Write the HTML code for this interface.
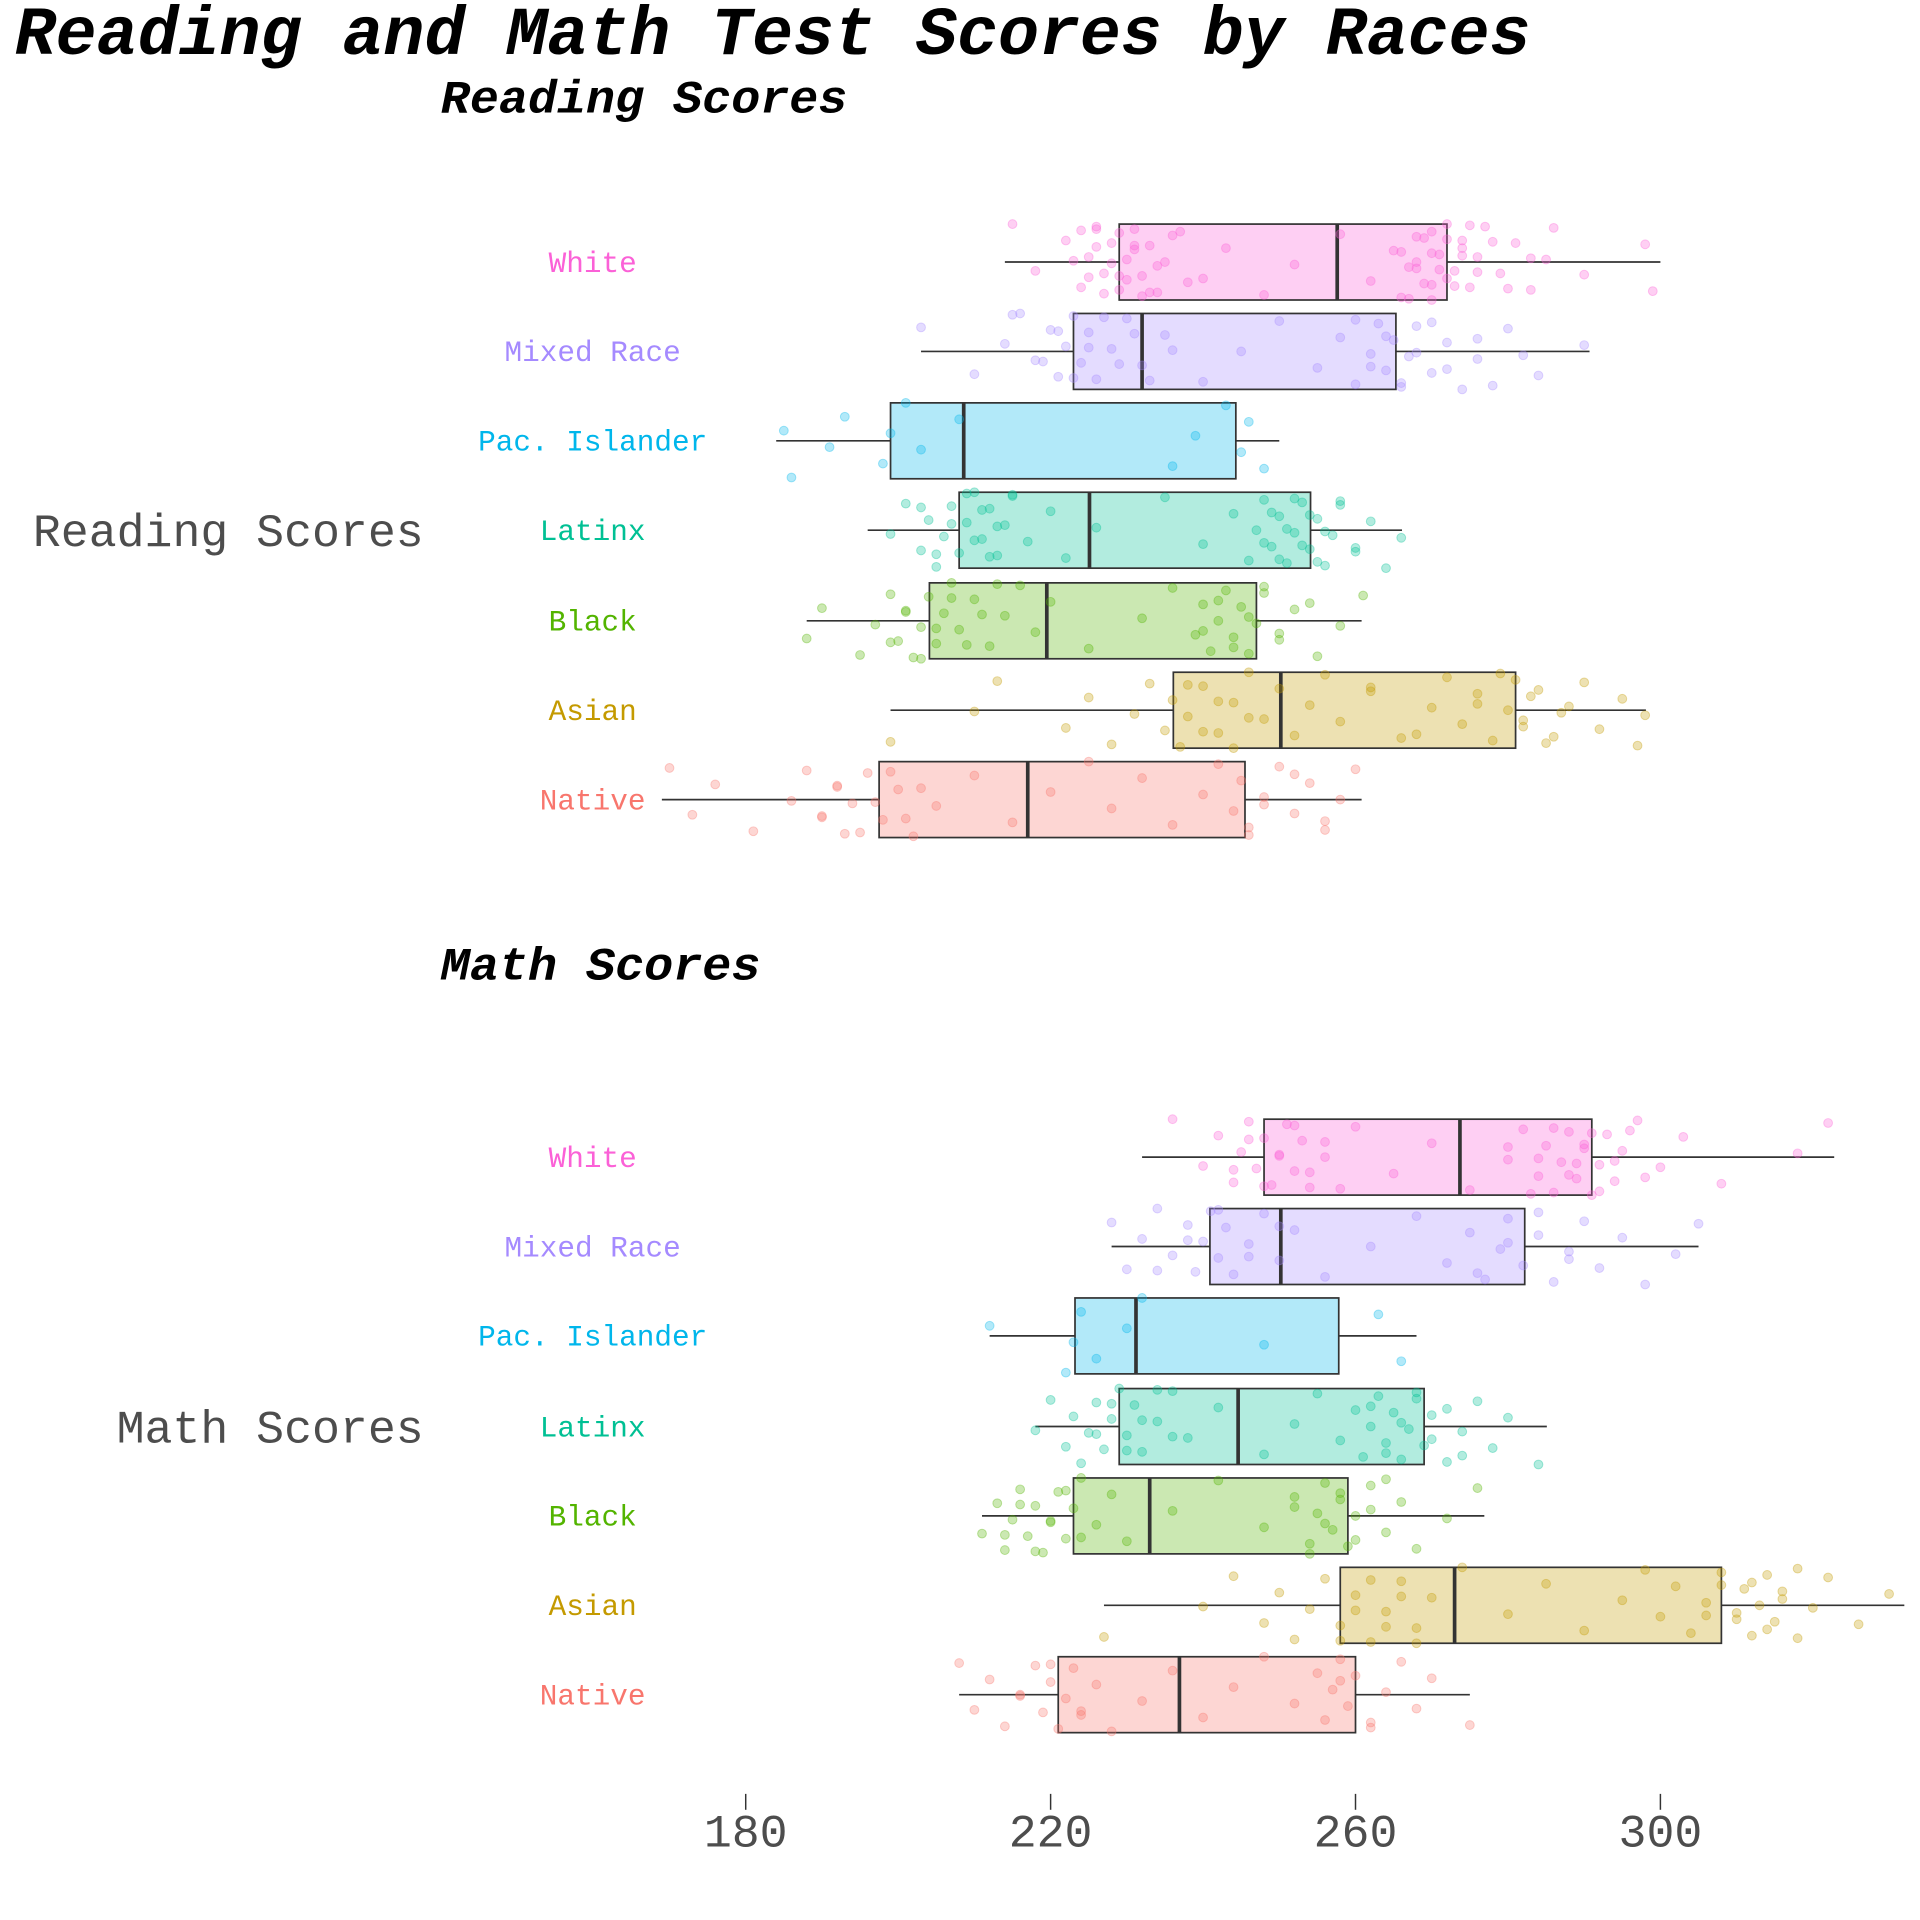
<!DOCTYPE html>
<html><head><meta charset="utf-8">
<style>
html,body{margin:0;padding:0;background:#fff;}
svg{display:block;}
text{font-family:"Liberation Mono","DejaVu Sans Mono",monospace;}
</style></head>
<body>
<svg id="chart" width="1920" height="1920" viewBox="0 0 1568 1568" xmlns="http://www.w3.org/2000/svg">
<text x="12" y="44" font-size="56" font-weight="bold" font-style="italic" textLength="1238" lengthAdjust="spacingAndGlyphs">Reading and Math Test Scores by Races</text>
<text x="360" y="92" font-size="38" font-weight="bold" font-style="italic" textLength="332" lengthAdjust="spacingAndGlyphs">Reading Scores</text>
<text x="360" y="800" font-size="38" font-weight="bold" font-style="italic" textLength="261" lengthAdjust="spacingAndGlyphs">Math Scores</text>
<text x="346" y="446" font-size="38" fill="#4d4d4d" text-anchor="end">Reading Scores</text>
<text x="346" y="1178" font-size="38" fill="#4d4d4d" text-anchor="end">Math Scores</text>
<g id="marks"></g>
</svg>
<script>
const categories = ["White","Mixed Race","Pac. Islander","Latinx","Black","Asian","Native"];
const colors = ["#FB61D7","#A58AFF","#00B6EB","#00C094","#53B400","#C49A00","#F8766D"];
// [whiskerLow, Q1, median, Q3, whiskerHigh]
const readingStats = [
  [214,229,257.6,272,300],
  [203,223,232,265.3,290.7],
  [184,199,208.6,244.3,250],
  [196,208,225.1,254.1,266.1],
  [188,204.1,219.5,247,260.8],
  [199,236.1,250.2,281,298.1],
  [169,197.5,217,245.5,260.8]
];
const mathStats = [
  [232,248,273.7,291,322.8],
  [228,240.9,250.2,282.2,305],
  [212,223.2,231.2,257.8,268],
  [218,229,244.6,269,285.1],
  [211,223,233,259,276.9],
  [227,258,273,308,332],
  [208,221,236.9,260,275]
];
const readingPoints = [
  [215,218,222,224,225,226,227,228,229,230,231,232,233,234,235,237,240,243,248,252,258,262,265,266,267,268,269,270,270,271,272,273,274,275,276,278,280,283,286,290,298,299,223,224,225,226,227,228,229,230,231,232,234,236,238,266,267,268,269,270,271,272,273,274,275,276,277,279,281,283,285,226,229,231,233,268,270,272,274],
  [203,210,214,216,218,220,221,222,223,224,225,226,228,230,232,235,240,245,250,255,258,260,262,263,264,265,266,267,268,270,272,274,276,280,284,290,215,219,221,223,225,227,229,231,233,236,260,262,264,266,268,270,272,276,278,282],
  [185,186,191,193,198,199,201,203,208,236,239,243,245,246,248],
  [199,201,203,204,205,206,207,208,209,210,211,212,213,214,215,217,220,222,226,235,240,244,246,247,248,249,250,251,252,253,254,255,256,257,258,260,262,264,266,203,205,207,209,210,211,212,213,215,248,249,250,251,252,253,254,255,256,258,260],
  [188,190,195,197,199,200,201,202,203,204,205,206,207,208,210,212,214,216,218,220,225,232,236,239,240,241,242,243,244,245,246,247,248,250,252,255,258,261,199,201,203,205,207,209,211,213,240,242,244,246,248,250,254],
  [199,210,213,222,225,228,231,233,235,236,237,238,240,242,244,246,248,250,252,254,256,258,262,266,270,272,274,276,278,280,281,282,283,285,287,290,292,295,297,298,238,240,242,244,246,262,268,276,279,282,284,286,288],
  [170,173,176,181,186,188,190,192,193,194,196,198,200,202,205,210,215,220,225,228,232,236,240,242,244,245,246,248,250,252,254,256,258,260,190,192,195,197,199,201,203,246,248,252,256]
];
const mathPoints = [
  [236,240,242,244,245,246,247,248,249,250,251,252,253,254,256,260,265,270,275,280,282,284,285,286,287,288,289,290,291,292,293,294,295,297,300,303,308,318,322,244,246,248,250,252,254,256,258,284,286,288,290,292,294,296,298,280,283,289,291],
  [228,230,232,234,236,238,239,240,241,242,243,244,246,248,250,252,256,262,268,272,275,277,279,280,282,284,286,288,290,292,295,298,302,305,234,238,242,246,250,276,280,284,288],
  [212,222,223,224,226,230,232,248,263,266],
  [218,220,222,223,224,225,226,227,228,229,230,231,232,234,236,238,242,248,252,255,258,260,261,262,263,264,265,266,267,268,269,270,272,274,276,278,280,284,226,228,230,232,234,236,262,264,266,268,270,272,274],
  [211,213,214,215,216,217,218,219,220,221,222,223,224,226,228,230,236,242,248,252,254,255,256,257,258,259,260,262,264,266,268,272,276,214,216,218,220,222,224,252,254,256,258,260,262,264],
  [227,240,244,248,250,252,254,256,258,260,262,264,266,268,270,274,280,285,290,295,298,300,302,304,306,308,310,311,312,313,314,315,316,318,320,322,326,330,258,260,262,264,266,268,310,312,314,316,318,306,308],
  [208,210,212,214,216,218,219,220,221,222,223,224,226,228,232,236,240,244,248,252,255,256,257,258,259,260,262,264,266,268,270,275,216,220,224,258,262]
];
const tickValues = [180,220,260,300];
const tickLabels = ["180","220","260","300"];

const NS = "http://www.w3.org/2000/svg";
const g = document.getElementById("marks");
function xScale(v){ return 609 + (v - 180) * 6.225; }
const readingRowY = [214,287,360,433,507,580,653];
const mathRowY = [945,1018,1091,1165,1238,1311,1384];
function mk(tag, attrs){ const e = document.createElementNS(NS, tag); for (const k in attrs) e.setAttribute(k, attrs[k]); g.appendChild(e); return e; }

function drawPanel(stats, points, rowY, panel){
  categories.forEach((cat, i) => {
    const y = rowY[i], c = colors[i], s = stats[i];
    const lbl = mk("text", {x:484, y:y+8, "font-size":24, fill:c, "text-anchor":"middle"});
    lbl.textContent = cat;
    
    
    const wl = mk("line", {x1:xScale(s[0]), x2:xScale(s[1]), y1:y, y2:y, stroke:"#333", "stroke-width":1.4});
    
    
    const wh = mk("line", {x1:xScale(s[3]), x2:xScale(s[4]), y1:y, y2:y, stroke:"#333", "stroke-width":1.4});
    
    
    const box = mk("rect", {x:xScale(s[1]), y:y-31, width:xScale(s[3])-xScale(s[1]), height:62, fill:c, "fill-opacity":0.3, stroke:"#333", "stroke-width":1.4});
    
    
    const med = mk("line", {x1:xScale(s[2]), x2:xScale(s[2]), y1:y-31, y2:y+31, stroke:"#333", "stroke-width":3});
    
    
    points[i].forEach((v, j) => {
      const off = (((j * 37 + i * 11) % 61) - 30) / 30 * 31;
      const p = mk("circle", {cx:xScale(v), cy:y+off, r:3.6, fill:c, "fill-opacity":0.3, stroke:c, "stroke-opacity":0.35, "stroke-width":0.8});
      
      
    });
  });
}
drawPanel(readingStats, readingPoints, readingRowY, "reading");
drawPanel(mathStats, mathPoints, mathRowY, "math");

tickValues.forEach((v, i) => {
  const t = mk("line", {x1:xScale(v), x2:xScale(v), y1:1465, y2:1478, stroke:"#333", "stroke-width":1.2});
  
  
  const l = mk("text", {x:xScale(v), y:1508, "font-size":38, fill:"#4d4d4d", "text-anchor":"middle"});
  l.textContent = tickLabels[i];
  
  
});
</script>
</body></html>
